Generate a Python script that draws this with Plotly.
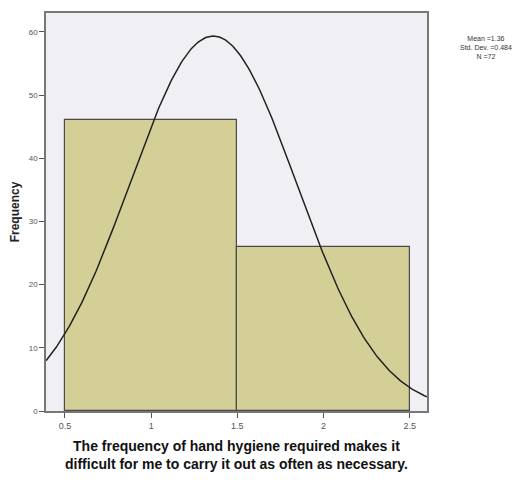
import numpy as np
import plotly.graph_objects as go

bin_centers = [1.0, 2.0]
bin_width = 1.0
frequencies = [46, 26]
mean_val = 1.36
std_val = 0.484
n_val = 72
x_tick_vals = [0.5, 1, 1.5, 2, 2.5]
x_tick_text = ["0.5", "1", "1.5", "2", "2.5"]
y_tick_vals = [0, 10, 20, 30, 40, 50, 60]

xs = np.linspace(0.39, 2.6, 300)
ys = n_val * bin_width / (std_val * np.sqrt(2 * np.pi)) * np.exp(-0.5 * ((xs - mean_val) / std_val) ** 2)

fig = go.Figure()
fig.add_trace(go.Bar(x=bin_centers, y=frequencies, width=[bin_width] * len(bin_centers),
                     marker=dict(color="#d4cf96", line=dict(color="#4a4a4a", width=1.2)),
                     hoverinfo="skip"))
fig.add_trace(go.Scatter(x=xs, y=ys, mode="lines", line=dict(color="#222222", width=1.5),
                         hoverinfo="skip"))

fig.update_layout(
    width=532, height=484,
    margin=dict(l=38, r=113, t=3, b=81),
    paper_bgcolor="white",
    plot_bgcolor="#f0eff4",
    showlegend=False,
    bargap=0,
    font=dict(family="Liberation Sans, Arial", color="#333333"),
)
fig.update_xaxes(range=[0.39, 2.6], tickvals=x_tick_vals, ticktext=x_tick_text,
                 ticks="outside", ticklen=5, tickcolor="#555555",
                 showgrid=False, zeroline=False,
                 showline=True, linecolor="#777777", linewidth=1.5, mirror=True,
                 tickfont=dict(size=9, color="#555555"))
fig.update_yaxes(range=[0, 63], tickvals=y_tick_vals, ticks="outside", ticklen=5,
                 tickcolor="#555555",
                 showgrid=False, zeroline=False,
                 showline=True, linecolor="#777777", linewidth=1.5, mirror=True,
                 tickfont=dict(size=8, color="#555555"),
                 title=dict(text="<b>Frequency</b>", font=dict(size=12, color="#222222"), standoff=9))

fig.add_annotation(xref="paper", yref="paper", x=0.5, y=-0.064, yanchor="top", showarrow=False,
                   text="<b>The frequency of hand hygiene required makes it<br>difficult for me to carry it out as often as necessary.</b>",
                   font=dict(size=14, color="#111111"), align="center")
fig.add_annotation(xref="paper", yref="paper", x=1.0, xshift=59, y=0.95, xanchor="center", yanchor="top",
                   showarrow=False,
                   text=f"Mean ={mean_val}<br>Std. Dev. ={std_val}<br>N ={n_val}",
                   font=dict(size=7, color="#333333"), align="center")

fig.write_html("out.html")
